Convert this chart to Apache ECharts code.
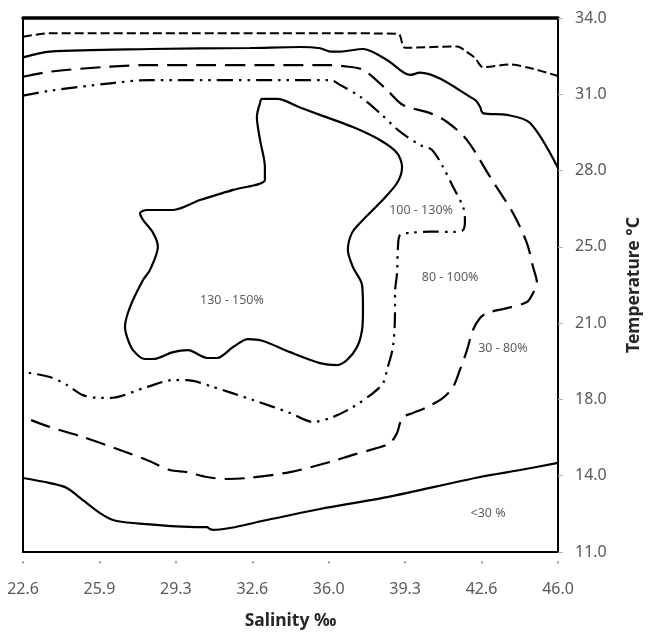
<!DOCTYPE html>
<html lang="en">
<head>
    <meta charset="UTF-8">
    <title>Salinity / Temperature contours</title>
    <script src="https://cdn.jsdelivr.net/npm/echarts/dist/echarts.min.js"></script>
    <style>html,body{margin:0;padding:0;background:#fff}</style>
</head>
<body>
<div id="main" style="width: 653px;height: 640px;"></div>
<script>
    // tick labels (axes are evenly spaced between these values)
    var salTicks = [22.6, 25.9, 29.3, 32.6, 36.0, 39.3, 42.6, 46.0]
    var tempTicks = [11, 14, 18, 21, 25, 28, 31, 34]

    // contour lines, [salinity, temperature]
    var topDash = [[22.6,33.26],[23.78,33.4],[30.34,33.4],[36.03,33.4],[39.0,33.38],[39.31,32.83],[41.58,32.88],
        [42.02,32.66],[42.37,32.43],[42.72,32.07],[43.9,32.17],[44.78,32.03],[46.0,31.72]]
    var topSolid = [[22.6,32.45],[23.78,32.68],[28.15,32.78],[32.53,32.82],[34.72,32.86],[35.59,32.81],[36.03,32.68],
        [36.47,32.68],[37.47,32.78],[38.52,32.35],[39.53,31.76],[39.96,31.85],[42.37,30.78],[42.59,30.51],
        [42.72,30.26],[43.77,30.19],[44.78,29.87],[46.0,28.1]]
    var longDash = [[22.6,31.69],[23.78,31.89],[26.41,32.09],[28.15,32.15],[36.03,32.15],[36.47,32.12],[37.47,31.96],
        [38.52,31.17],[39.22,30.58],[40.4,30.26],[41.15,29.91],[42.02,29.2],[43.03,27.75],[44.03,26.33],
        [44.64,25.15],[44.91,23.94],[45.08,23.1],[44.91,22.58],[44.64,22.11],[43.77,21.79],[42.89,21.53],
        [42.59,21.27],[42.28,20.73],[42.02,19.94],[41.71,19.16],[41.41,18.49],[40.97,18.06],[40.27,17.6],
        [39.66,17.29],[39.22,17.08],[39.09,16.76],[38.96,16.24],[38.65,15.71],[38.08,15.45],[37.03,15.09],
        [36.03,14.72],[34.28,14.19],[32.4,13.91],[31.52,13.87],[30.65,13.95],[29.77,14.19],[29.03,14.3],
        [28.02,14.82],[26.84,15.35],[25.22,16.03],[23.78,16.55],[22.6,17.08]]
    var dashDot = [[22.6,30.95],[23.78,31.14],[26.41,31.43],[28.15,31.56],[36.03,31.56],[36.47,31.37],[37.34,30.91],
        [38.21,30.26],[39.09,29.53],[39.96,29.01],[40.49,28.81],[40.97,28.14],[41.41,27.36],[41.85,26.57],
        [41.93,26.06],[41.85,25.66],[41.41,25.59],[40.4,25.6],[39.53,25.55],[39.09,25.47],[39.0,24.99],
        [38.96,23.63],[38.87,22.58],[38.87,21.53],[38.78,20.06],[38.52,19.16],[38.35,18.64],[37.91,18.25],
        [37.03,17.6],[36.16,17.08],[35.28,16.82],[34.28,17.29],[32.66,17.97],[30.91,18.49],[29.77,18.76],
        [29.16,18.76],[28.02,18.49],[26.41,18.06],[25.97,18.06],[25.22,18.17],[24.52,18.57],[23.78,18.88],
        [22.6,19.08]]
    var innerLoop = [[32.97,30.66],[33.05,30.82],[33.71,30.82],[34.72,30.48],[35.59,30.19],[37.03,29.71],[38.21,29.2],
        [38.96,28.69],[39.18,28.14],[38.96,27.51],[38.21,26.73],[37.47,26.06],[36.99,25.55],[36.81,24.83],
        [37.03,23.94],[37.43,23.0],[37.47,21.69],[37.43,20.73],[37.21,20.06],[36.77,19.55],[36.33,19.35],
        [35.59,19.43],[34.28,19.86],[33.1,20.3],[32.44,20.37],[31.79,20.06],[31.09,19.63],[30.65,19.63],
        [29.82,19.94],[29.16,19.86],[28.29,19.59],[27.94,19.59],[27.41,19.94],[27.15,20.45],[27.06,20.85],
        [27.28,21.84],[27.85,23.26],[28.15,23.78],[28.5,25.0],[28.29,25.55],[27.85,26.06],[27.72,26.33],
        [28.02,26.45],[29.16,26.45],[30.34,26.84],[31.79,27.24],[33.18,27.63],[33.18,28.14],[32.97,29.2],
        [32.83,30.11],[32.97,30.66]]
    var bottomSolid = [[22.6,13.91],[23.78,13.71],[24.52,13.52],[25.22,13.04],[25.97,12.53],[26.54,12.26],[27.41,12.14],
        [30.34,11.98],[30.65,11.98],[30.78,11.9],[30.91,11.87],[33.27,12.26],[35.59,12.69],[38.52,13.16],
        [42.59,13.95],[44.34,14.3],[46.0,14.67]]

    // region labels [salinity, temperature, text]
    var regionLabels = [[31.74,22.21,'130 - 150%'],[40.01,26.45,'100 - 130%'],[41.28,23.42,'80 - 100%'],
        [43.59,20.02,'30 - 80%'],[42.94,12.53,'<30 %']]

    function sx(s) {
        return (s - salTicks[0]) / (salTicks[salTicks.length - 1] - salTicks[0]) * (salTicks.length - 1)
    }
    function ty(t) {
        for (var k = 0; k < tempTicks.length - 1; k++) {
            if (t <= tempTicks[k + 1]) return k + (t - tempTicks[k]) / (tempTicks[k + 1] - tempTicks[k])
        }
        return tempTicks.length - 1
    }
    function toXY(arr) {
        return arr.map(function (p) { return [sx(p[0]), ty(p[1])] })
    }

    function contour(data, type, width) {
        return {
            type: 'line',
            data: toXY(data),
            symbol: 'none',
            smooth: 0.3,
            clip: false,
            silent: true,
            lineStyle: {color: '#000', width: width, type: type, cap: 'butt'}
        }
    }

    var tickFont = {fontFamily: 'Noto Sans', fontSize: 16, color: '#595959'}
    var nameFont = {fontFamily: 'Noto Sans', fontSize: 17.5, fontWeight: 'bold', color: '#262626'}
    var n = salTicks.length - 1

    var mCharts = echarts.init(document.getElementById('main'))
    var option = {
        animation: false,
        grid: {left: 23, right: 95, top: 18, bottom: 88, show: true, borderColor: '#000', borderWidth: 2},
        xAxis: [
            {
                type: 'value', min: 0, max: n, interval: 1, position: 'bottom',
                name: 'Salinity ‰', nameLocation: 'middle', nameGap: 60,
                nameTextStyle: nameFont,
                axisLine: {show: true, onZero: false, lineStyle: {color: '#000', width: 2}},
                axisTick: {show: false},
                splitLine: {show: false},
                axisLabel: Object.assign({margin: 29, formatter: function (v) {
                    return salTicks[Math.round(v)].toFixed(1)
                }}, tickFont)
            },
            {
                // small detached tick marks under the axis
                type: 'value', min: 0, max: n, interval: 1, position: 'bottom', offset: 9,
                axisLine: {show: false, onZero: false}, axisLabel: {show: false}, splitLine: {show: false},
                axisTick: {show: true, length: 2.5, lineStyle: {color: '#8c8c8c', width: 1.5}}
            },
            {
                type: 'value', min: 0, max: n, interval: 1, position: 'top',
                axisLine: {show: true, onZero: false, lineStyle: {color: '#000', width: 3.5}},
                axisLabel: {show: false}, axisTick: {show: false}, splitLine: {show: false}
            }
        ],
        yAxis: {
            type: 'value', min: 0, max: n, interval: 1, position: 'right',
            name: 'Temperature °C', nameLocation: 'middle', nameRotate: 90, nameGap: 67,
            nameTextStyle: nameFont,
            axisLine: {show: true, onZero: false, lineStyle: {color: '#000', width: 2}},
            axisTick: {show: true, length: 5, lineStyle: {color: '#b0b0b0', width: 1}},
            splitLine: {show: false},
            axisLabel: Object.assign({margin: 17, formatter: function (v) {
                return tempTicks[Math.round(v)].toFixed(1)
            }}, tickFont)
        },
        series: [
            contour(topDash, [9, 4], 2),
            contour(topSolid, 'solid', 2.2),
            contour(longDash, [20, 9], 2.2),
            contour(dashDot, [16, 6, 2.5, 6, 2.5, 6], 2.2),
            contour(innerLoop, 'solid', 2.2),
            contour(bottomSolid, 'solid', 2.2),
            {
                type: 'scatter',
                symbolSize: 0,
                silent: true,
                data: regionLabels.map(function (r) { return {value: [sx(r[0]), ty(r[1])], name: r[2]} }),
                label: {
                    show: true, position: 'inside', formatter: '{b}',
                    fontFamily: 'Noto Sans', fontSize: 12.5, color: '#333333'
                }
            }
        ]
    }
    mCharts.setOption(option)
</script>
</body>
</html>
